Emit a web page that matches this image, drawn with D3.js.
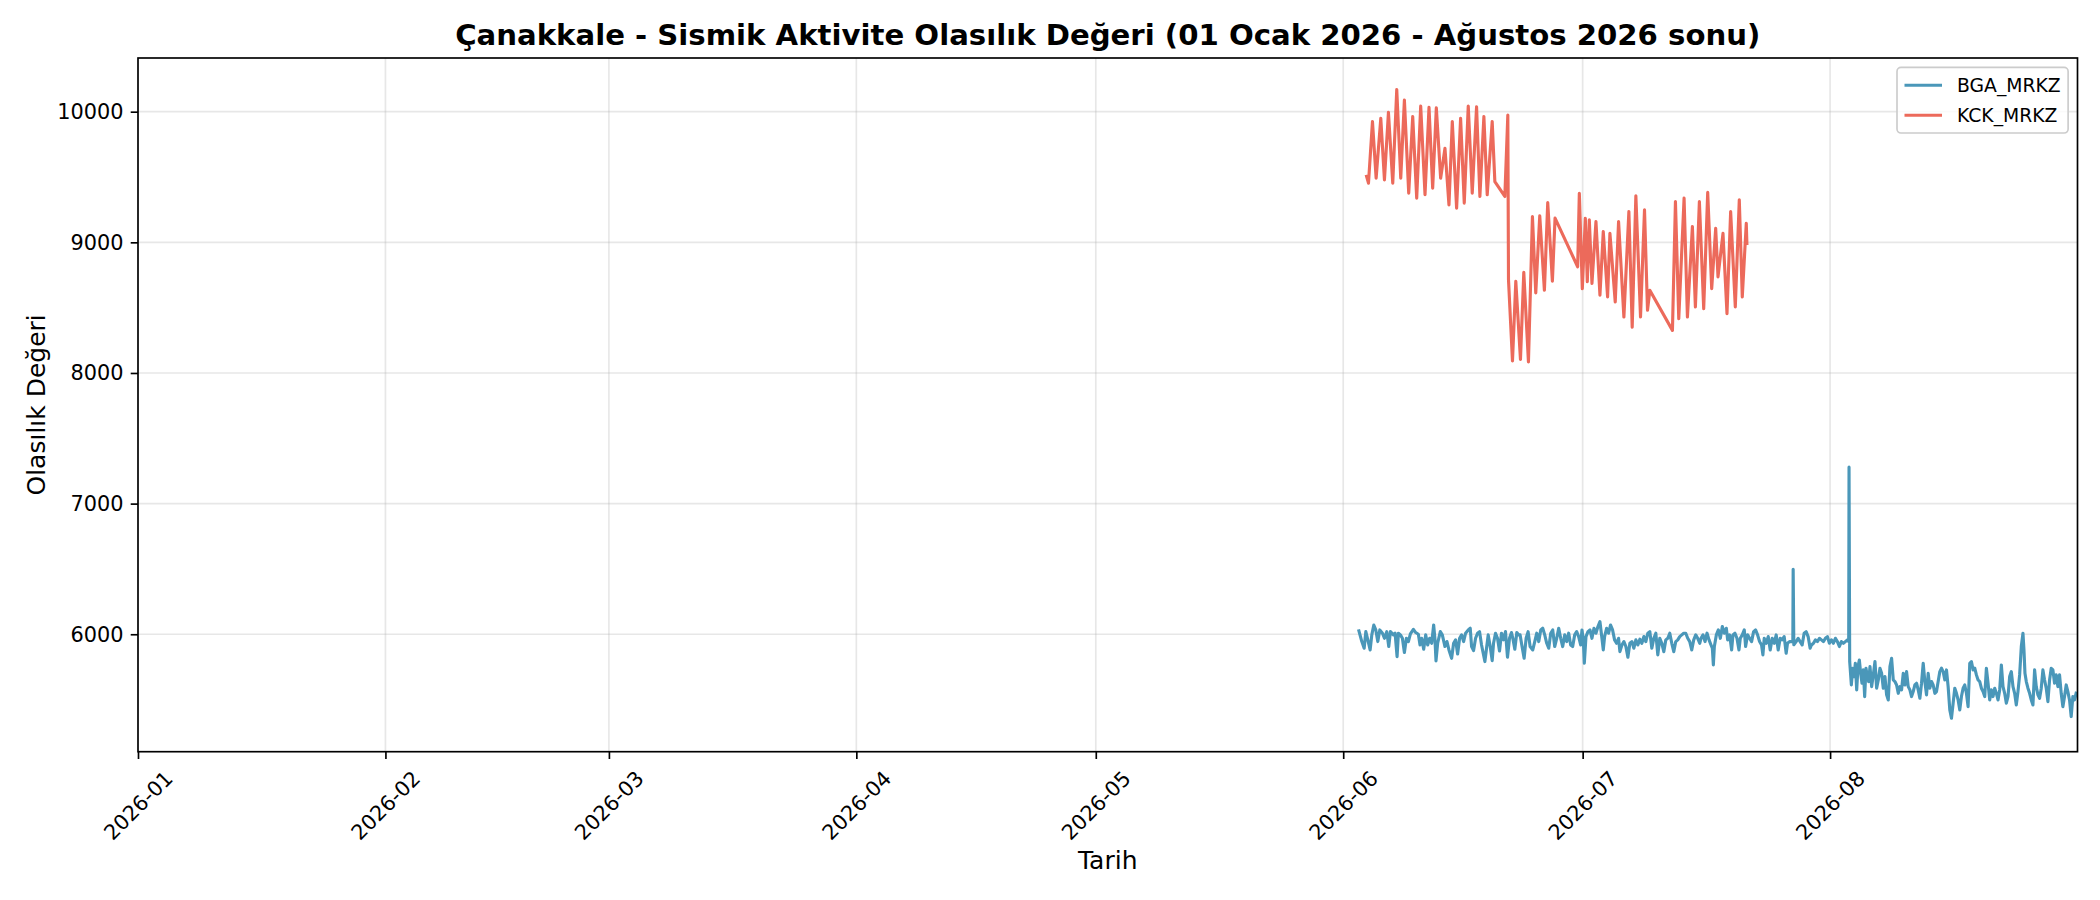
<!DOCTYPE html>
<html>
<head>
<meta charset="utf-8">
<script src="https://cdn.jsdelivr.net/npm/d3@7"></script>
<style>
  body { margin: 0; background: #fff; }
  text { font-family: "DejaVu Sans", sans-serif; fill: #000; }
</style>
</head>
<body>
<div id="wrapper"></div>
<script>
// Chart data
const chartTitle = "Çanakkale - Sismik Aktivite Olasılık Değeri (01 Ocak 2026 - Ağustos 2026 sonu)"
const xLabel = "Tarih"
const yLabel = "Olasılık Değeri"
const seriesNames = ["BGA_MRKZ", "KCK_MRKZ"]
const seriesColors = ["#4a97b9", "#ec6a5b"]
const xTickLabels = ["2026-01", "2026-02", "2026-03", "2026-04", "2026-05", "2026-06", "2026-07", "2026-08"]
const yTickValues = [6000, 7000, 8000, 9000, 10000]
const xRange = ["2026-01-01 00:00", "2026-08-31 23:59"]
const yRange = [5101, 10411]
// points are [hours after hourBase, value]
const hourBase = "2026-06-01 00:00"

const bgaPoints = [
  [46,6038],[56,5944],[63,5893],[68,6020],[74,5957],[81,5880],[86,5995],[92,6071],[98,6033],[104,5944],
  [110,6033],[118,6008],[124,5969],[131,6020],[137,5906],[142,6020],[151,5995],[156,6008],[162,5829],[166,6008],
  [172,5995],[178,5969],[184,5860],[190,5969],[196,5944],[202,6003],[211,6038],[218,6013],[226,6000],[231,5918],
  [236,5969],[242,5885],[248,5995],[254,5918],[260,5969],[266,5931],[272,6071],[276,5957],[279,5796],[284,5931],
  [292,6020],[298,5995],[306,5906],[312,5944],[318,5880],[326,5816],[332,5931],[338,5957],[344,5849],[350,5969],
  [356,5995],[362,5944],[368,6008],[376,6033],[382,6046],[386,5906],[392,5875],[398,5969],[404,6008],[410,6020],
  [416,5918],[421,5855],[426,5791],[431,5893],[436,5995],[442,5906],[448,5798],[452,5931],[458,6008],[464,5969],
  [470,5872],[476,6008],[482,5957],[488,6020],[494,5824],[500,5969],[506,6013],[511,5957],[516,5885],[522,6013],
  [528,5995],[532,5995],[537,5918],[544,5816],[550,5969],[556,6020],[562,5906],[570,5880],[576,5944],[582,6008],
  [588,5944],[594,6033],[600,6046],[606,5995],[612,5931],[618,5893],[624,6008],[630,6033],[636,5906],[642,5969],
  [648,6046],[654,5969],[660,5906],[666,5995],[672,5944],[678,6008],[684,5918],[690,5906],[696,5995],[702,6020],
  [708,5982],[714,5918],[718,6033],[722,5957],[725,5778],[730,5982],[736,6020],[742,6033],[748,5969],[754,6046],
  [760,6008],[766,6059],[772,6097],[778,5969],[782,5880],[786,5982],[792,6046],[798,6008],[804,6071],[810,6033],
  [816,5957],[822,5931],[828,5969],[832,5867],[838,5918],[844,5944],[850,5906],[856,5824],[862,5931],[868,5944],
  [874,5893],[880,5957],[886,5918],[892,5962],[898,5931],[904,5982],[910,5944],[916,6008],[922,6020],[928,5893],
  [934,5969],[940,6008],[946,5842],[952,5969],[958,5931],[964,5867],[970,5957],[976,5969],[982,6008],[988,5931],
  [994,5867],[1000,5944],[1006,5957],[1012,5982],[1018,5995],[1024,6008],[1030,6008],[1036,5969],[1042,5944],[1048,5880],
  [1054,5957],[1060,5995],[1066,5969],[1072,5931],[1076,5969],[1082,5995],[1088,5944],[1094,6008],[1100,5957],[1106,5918],
  [1110,5893],[1113,5765],[1116,5906],[1122,5995],[1128,6033],[1134,5969],[1140,6059],[1146,6008],[1152,6046],[1156,5957],
  [1162,5995],[1168,5880],[1172,5995],[1178,6008],[1184,5969],[1190,5880],[1194,5969],[1200,5995],[1206,6033],[1210,5906],
  [1216,5995],[1222,5969],[1228,5944],[1234,6020],[1240,6033],[1246,5995],[1252,5944],[1258,5918],[1262,5842],[1266,5969],
  [1272,5931],[1278,5982],[1284,5880],[1290,5969],[1296,5931],[1302,5995],[1308,5880],[1314,5969],[1320,5957],[1326,5982],
  [1332,5855],[1336,5931],[1342,5944],[1348,5944],[1352,5950],[1353,6498],[1355,5920],[1362,5944],[1368,5969],[1374,5944],
  [1380,5918],[1386,6008],[1392,6020],[1398,5982],[1404,5893],[1408,5918],[1414,5931],[1420,5957],[1426,5944],[1432,5969],
  [1438,5957],[1444,5944],[1450,5969],[1456,5982],[1462,5931],[1468,5957],[1474,5931],[1480,5969],[1486,5944],[1492,5906],
  [1498,5944],[1504,5931],[1510,5944],[1516,5957],[1520,5944],[1521,7279],[1523,5790],[1528,5612],[1532,5740],[1536,5676],
  [1540,5778],[1544,5574],[1548,5752],[1552,5803],[1556,5701],[1560,5625],[1564,5727],[1568,5523],[1572,5740],[1576,5676],
  [1580,5638],[1584,5752],[1589,5599],[1594,5689],[1599,5791],[1604,5587],[1609,5650],[1614,5740],[1619,5701],[1624,5587],
  [1629,5676],[1634,5536],[1639,5497],[1644,5752],[1649,5816],[1654,5650],[1659,5638],[1664,5612],[1669,5548],[1674,5599],
  [1679,5574],[1684,5701],[1689,5612],[1694,5714],[1699,5599],[1704,5574],[1709,5523],[1714,5561],[1719,5612],[1724,5625],
  [1729,5574],[1734,5510],[1739,5625],[1744,5778],[1749,5638],[1754,5536],[1759,5701],[1764,5587],[1769,5638],[1774,5612],
  [1779,5548],[1784,5561],[1789,5638],[1794,5714],[1799,5740],[1804,5714],[1809,5650],[1814,5727],[1819,5599],[1824,5421],
  [1829,5357],[1834,5472],[1839,5587],[1844,5548],[1849,5497],[1854,5421],[1859,5523],[1864,5587],[1869,5612],[1874,5548],
  [1879,5446],[1884,5778],[1889,5791],[1894,5727],[1899,5740],[1904,5689],[1909,5650],[1914,5638],[1919,5587],[1924,5561],
  [1929,5523],[1934,5740],[1939,5625],[1944,5497],[1949,5574],[1954,5523],[1959,5587],[1964,5548],[1969,5497],[1974,5574],
  [1979,5765],[1984,5599],[1989,5548],[1994,5472],[1999,5523],[2004,5676],[2009,5714],[2014,5599],[2019,5548],[2024,5459],
  [2029,5561],[2034,5689],[2039,5906],[2044,6008],[2047,5880],[2050,5701],[2054,5638],[2059,5587],[2064,5548],[2069,5497],
  [2074,5459],[2079,5727],[2084,5599],[2089,5536],[2094,5510],[2099,5587],[2104,5727],[2109,5650],[2114,5587],[2119,5484],
  [2124,5650],[2129,5740],[2134,5727],[2139,5625],[2144,5689],[2149,5599],[2154,5689],[2159,5548],[2164,5446],[2169,5523],
  [2174,5612],[2179,5561],[2184,5497],[2189,5370],[2194,5523],[2199,5497],[2205,5560]
]

const kckPoints = [
  [69,9516],[76,9453],[88,9924],[99,9491],[113,9949],[124,9478],[136,9995],[149,9453],[161,10170],[173,9491],
  [184,10089],[197,9377],[209,9962],[221,9338],[233,10043],[246,9364],[258,10033],[269,9415],[280,10030],[293,9491],
  [306,9720],[318,9287],[328,9924],[341,9262],[353,9949],[364,9300],[376,10043],[388,9377],[401,10038],[411,9351],
  [423,9962],[433,9364],[448,9924],[456,9465],[486,9351],[495,9975],[497,8715],[509,8092],[519,8702],[533,8104],
  [543,8771],[557,8084],[569,9198],[579,8613],[591,9203],[605,8633],[615,9305],[629,8702],[637,9186],[705,8813],
  [710,9376],[719,8646],[728,9184],[734,8698],[740,9172],[748,8685],[760,9159],[772,8595],[782,9082],[795,8582],
  [802,9069],[818,8543],[828,9159],[844,8428],[859,9236],[869,8351],[880,9356],[894,8428],[906,9249],[915,8480],
  [922,8633],[990,8326],[999,9313],[1009,8416],[1025,9338],[1035,8428],[1050,9120],[1059,8505],[1071,9313],[1084,8492],
  [1096,9382],[1108,8646],[1120,9107],[1127,8736],[1142,9069],[1154,8454],[1165,9236],[1179,8505],[1191,9326],[1200,8582],
  [1212,9146],[1214,8980]
]

function drawChart() {

    const parseTime = d3.timeParse("%Y-%m-%d %H:%M")
    const base = parseTime(hourBase)
    const timeAccessor = d => d3.timeHour.offset(base, d[0])
    const valueAccessor = d => d[1]

    // Dimensions
    let dimensions = {
        width: 2100,
        height: 900,
        margin: { top: 58, right: 22.5, bottom: 148.3, left: 138 },
    }
    dimensions.boundedWidth = dimensions.width - dimensions.margin.left - dimensions.margin.right
    dimensions.boundedHeight = dimensions.height - dimensions.margin.top - dimensions.margin.bottom

    const pt = 150 / 72 // matplotlib points -> px at 150 dpi

    // Canvas
    const wrapper = d3.select("#wrapper")
        .append("svg")
        .attr("width", dimensions.width)
        .attr("height", dimensions.height)
        .style("background", "#fff")

    const bounds = wrapper.append("g")
        .attr("transform", `translate(${dimensions.margin.left}, ${dimensions.margin.top})`)

    // Scales
    const xScale = d3.scaleTime()
        .domain(xRange.map(parseTime))
        .range([0, dimensions.boundedWidth])

    const yScale = d3.scaleLinear()
        .domain(yRange)
        .range([dimensions.boundedHeight, 0])

    const xTicks = xTickLabels.map(d => d3.timeParse("%Y-%m")(d))

    // Grid
    const grid = bounds.append("g")
        .attr("stroke", "#b0b0b0")
        .attr("stroke-opacity", 0.3)
        .attr("stroke-width", 0.8 * pt)
    grid.selectAll(".vgrid")
        .data(xTicks)
        .join("line")
            .attr("x1", d => xScale(d))
            .attr("x2", d => xScale(d))
            .attr("y1", 0)
            .attr("y2", dimensions.boundedHeight)
    grid.selectAll(".hgrid")
        .data(yTickValues)
        .join("line")
            .attr("x1", 0)
            .attr("x2", dimensions.boundedWidth)
            .attr("y1", d => yScale(d))
            .attr("y2", d => yScale(d))

    // Lines
    bounds.append("defs").append("clipPath")
        .attr("id", "plot-clip")
        .append("rect")
        .attr("width", dimensions.boundedWidth)
        .attr("height", dimensions.boundedHeight)

    const lineGenerator = d3.line()
        .x(d => xScale(timeAccessor(d)))
        .y(d => yScale(valueAccessor(d)))

    const seriesData = [bgaPoints, kckPoints]
    bounds.append("g")
        .attr("clip-path", "url(#plot-clip)")
        .selectAll("path")
        .data(seriesData)
        .join("path")
            .attr("d", lineGenerator)
            .attr("fill", "none")
            .attr("stroke", (d, i) => seriesColors[i])
            .attr("stroke-width", 1.5 * pt)
            .attr("stroke-linejoin", "round")

    // Axes
    const tickLen = 3.5 * pt
    const tickPad = 3.5 * pt
    const tickFont = 10 * pt

    const xAxisGenerator = d3.axisBottom(xScale)
        .tickValues(xTicks)
        .tickSize(tickLen)
        .tickFormat("")
    const xAxis = bounds.append("g")
        .attr("transform", `translate(0, ${dimensions.boundedHeight})`)
        .call(xAxisGenerator)
    xAxis.select(".domain").remove()
    xAxis.selectAll(".tick line").attr("stroke", "#000").attr("stroke-width", 0.8 * pt)

    // rotated tick labels, bbox centred under tick
    xAxis.selectAll(".tick").each(function(d, i) {
        const tick = d3.select(this)
        const label = tick.append("text")
            .attr("font-size", tickFont)
            .attr("text-anchor", "middle")
            .attr("dominant-baseline", "central")
            .text(xTickLabels[i])
        const w = label.node().getComputedTextLength()
        const h = tickFont * 1.16
        const boxH = (w + h) / Math.SQRT2
        label.attr("transform", `translate(0, ${tickLen + tickPad + boxH / 2}) rotate(-45)`)
    })

    const yAxisGenerator = d3.axisLeft(yScale)
        .tickValues(yTickValues)
        .tickSize(tickLen)
        .tickPadding(tickPad)
        .tickFormat(d3.format("d"))
    const yAxis = bounds.append("g").call(yAxisGenerator)
    yAxis.select(".domain").remove()
    yAxis.selectAll(".tick line").attr("stroke", "#000").attr("stroke-width", 0.8 * pt)
    yAxis.selectAll(".tick text")
        .attr("font-size", tickFont)
        .attr("font-family", "DejaVu Sans")
        .attr("fill", "#000")
        .attr("dy", null)
        .attr("dominant-baseline", "central")

    // Spines
    bounds.append("rect")
        .attr("width", dimensions.boundedWidth)
        .attr("height", dimensions.boundedHeight)
        .attr("fill", "none")
        .attr("stroke", "#000")
        .attr("stroke-width", 0.8 * pt)

    // Labels
    wrapper.append("text")
        .attr("x", dimensions.margin.left + dimensions.boundedWidth / 2)
        .attr("y", 45)
        .attr("text-anchor", "middle")
        .attr("font-size", 14 * pt)
        .attr("font-weight", "bold")
        .text(chartTitle)

    wrapper.append("text")
        .attr("x", dimensions.margin.left + dimensions.boundedWidth / 2)
        .attr("y", 860)
        .attr("text-anchor", "middle")
        .attr("dominant-baseline", "central")
        .attr("font-size", 12 * pt)
        .text(xLabel)

    wrapper.append("text")
        .attr("transform", `translate(36, ${dimensions.margin.top + dimensions.boundedHeight / 2}) rotate(-90)`)
        .attr("text-anchor", "middle")
        .attr("dominant-baseline", "central")
        .attr("font-size", 12 * pt)
        .text(yLabel)

    // Legend (upper right)
    const legendFont = 9 * pt
    const legend = bounds.append("g")
    const legendItems = legend.selectAll("g")
        .data(seriesNames)
        .join("g")
    const labels = legendItems.append("text")
        .attr("font-size", legendFont)
        .attr("dominant-baseline", "central")
        .text(d => d)
    const textW = d3.max(labels.nodes(), n => n.getComputedTextLength())
    const pad = 0.4 * legendFont
    const handleLen = 2 * legendFont
    const handlePad = 0.8 * legendFont
    const rowH = 1.1 * legendFont
    const rowGap = 0.5 * legendFont
    const boxW = pad * 2 + handleLen + handlePad + textW
    const boxH = pad * 2 + rowH * seriesNames.length + rowGap * (seriesNames.length - 1)
    const axPad = 0.5 * legendFont
    const boxX = dimensions.boundedWidth - axPad - boxW
    const boxY = axPad

    legend.insert("rect", ":first-child")
        .attr("x", boxX)
        .attr("y", boxY)
        .attr("width", boxW)
        .attr("height", boxH)
        .attr("rx", 4)
        .attr("fill", "#fff")
        .attr("fill-opacity", 0.8)
        .attr("stroke", "#cccccc")
        .attr("stroke-width", 0.8 * pt)

    legendItems.attr("transform", (d, i) =>
        `translate(${boxX + pad}, ${boxY + pad + rowH / 2 + i * (rowH + rowGap)})`)
    legendItems.insert("line", "text")
        .attr("x1", 0)
        .attr("x2", handleLen)
        .attr("stroke", (d, i) => seriesColors[i])
        .attr("stroke-width", 1.5 * pt)
    labels.attr("x", handleLen + handlePad)
}
drawChart()
</script>
</body>
</html>
